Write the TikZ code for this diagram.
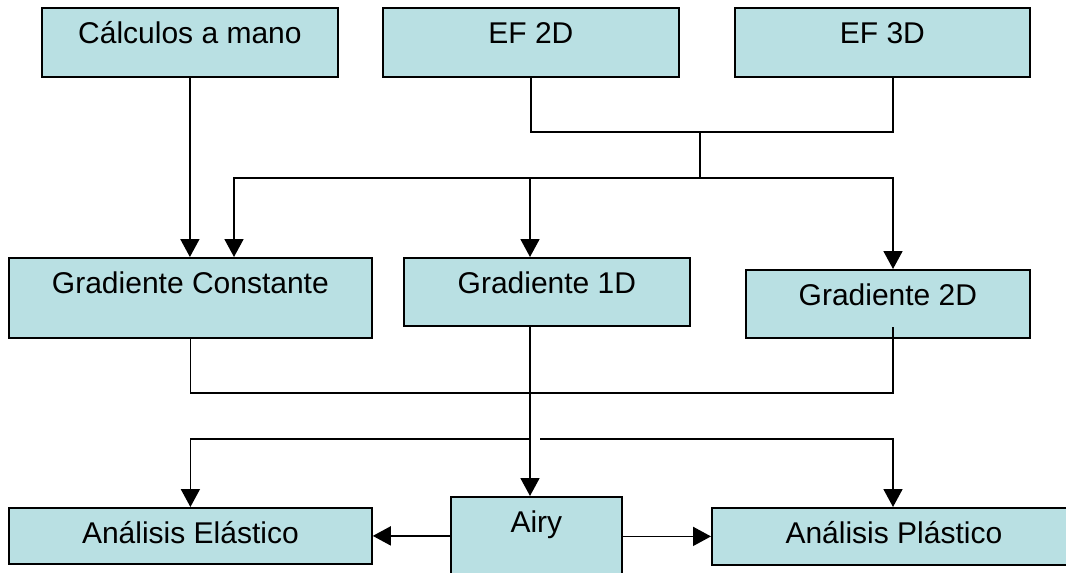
\documentclass[tikz,border=0pt]{standalone}
\usepackage{fontspec}
\setmainfont{Liberation Sans}
\usetikzlibrary{arrows.meta,calc}
\definecolor{boxfill}{RGB}{185,224,227}
\tikzset{
  box/.style={draw=black, fill=boxfill, line width=1.8pt, inner sep=0pt,
    anchor=north west, text height=21pt, text depth=#1,
    font=\fontsize{30pt}{35pt}\selectfont},
  conn/.style={line width=1.8pt},
  arr/.style={conn, -{Triangle[length=18pt 0, width=19pt 0]}}
}
\begin{document}
\begin{tikzpicture}[x=1pt,y=-1pt]
\useasboundingbox (0,0) rectangle (1066,573);
\clip (0,0) rectangle (1066,573);
% boxes
\node[box=18pt, minimum width=296pt, minimum height=69pt] (calc) at (41,7) {Cálculos a mano};
\node[box=18pt, minimum width=296pt, minimum height=69pt] (ef2) at (382,7) {EF 2D};
\node[box=18pt, minimum width=295pt, minimum height=69pt] (ef3) at (734,7) {EF 3D};
\node[box=29pt, minimum width=363pt, minimum height=80pt] (gc) at (8,257) {Gradiente Constante};
\node[box=17pt, minimum width=286pt, minimum height=68pt] (g1d) at (403,257) {Gradiente 1D};
\node[box=17pt, minimum width=284pt, minimum height=68pt] (g2d) at (745,269) {Gradiente 2D};
\node[box=5pt, minimum width=363pt, minimum height=56pt] (ela) at (8,507) {Análisis Elástico};
\node[box=49pt, minimum width=171pt, minimum height=100pt] (airy) at (450,496) {Airy};
\node[box=6pt, minimum width=364pt, minimum height=57pt] (pla) at (711,507) {Análisis Plástico};
% helper coordinates
\coordinate (x1) at (530,0);
\coordinate (x2) at (234,0);
\coordinate (x3) at (893,0);
\coordinate (j1) at (700,132);
\coordinate (j2) at (700,178);
\coordinate (j3) at (530,393);
\coordinate (j4) at (530,439);
\coordinate (j5) at (540,439);
% top connectors
\draw[arr] (calc.south) -- (calc.south |- gc.north);
\draw[conn] (ef2.south) -- (ef2.south |- j1) -- (j1 -| x3) -- (ef3.south -| x3);
\draw[conn] (j1) -- (j2);
\draw[arr] (j2) -| (gc.north -| x2);
\draw[arr] (j2 -| x1) -- (g1d.north -| x1);
\draw[arr] (j2) -| (g2d.north -| x3);
% middle connectors
\draw[conn] (gc.south) |- (x3 |- j3) -- ($(g2d.south -| x3)+(0,-12)$);
\draw[arr] (g1d.south -| x1) -- (airy.north -| x1);
\draw[arr] (j4) -| (ela.north);
\draw[arr] (j5) -| (pla.north -| x3);
% bottom connectors
\draw[arr] (ela.east -| airy.west) -- (ela.east);
\draw[arr] (pla.west -| airy.east) -- (pla.west);
\end{tikzpicture}
\end{document}
